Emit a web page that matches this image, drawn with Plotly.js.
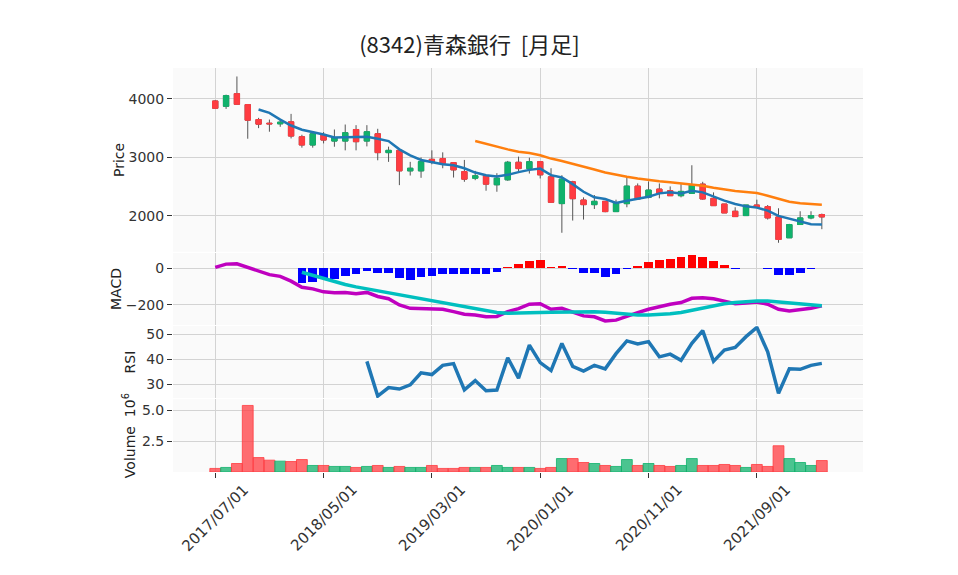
<!DOCTYPE html>
<html>
<head>
<meta charset="utf-8">
<script src="https://cdn.plot.ly/plotly-3.0.1.min.js"></script>
<style>
  body { margin: 0; background: #fff; }
  #chart { width: 958px; height: 575px; }
</style>
</head>
<body>
<div id="chart"></div>
<script>
// monthly bars, 2017/07 .. 2022/03
var months = [
  '2017/07/01','2017/08/01','2017/09/01','2017/10/01','2017/11/01','2017/12/01',
  '2018/01/01','2018/02/01','2018/03/01','2018/04/01','2018/05/01','2018/06/01',
  '2018/07/01','2018/08/01','2018/09/01','2018/10/01','2018/11/01','2018/12/01',
  '2019/01/01','2019/02/01','2019/03/01','2019/04/01','2019/05/01','2019/06/01',
  '2019/07/01','2019/08/01','2019/09/01','2019/10/01','2019/11/01','2019/12/01',
  '2020/01/01','2020/02/01','2020/03/01','2020/04/01','2020/05/01','2020/06/01',
  '2020/07/01','2020/08/01','2020/09/01','2020/10/01','2020/11/01','2020/12/01',
  '2021/01/01','2021/02/01','2021/03/01','2021/04/01','2021/05/01','2021/06/01',
  '2021/07/01','2021/08/01','2021/09/01','2021/10/01','2021/11/01','2021/12/01',
  '2022/01/01','2022/02/01','2022/03/01'
];
var tickMonths = ['2017/07/01','2018/05/01','2019/03/01','2020/01/01','2020/11/01','2021/09/01'];

var openP = [3966,3875,4091,3904,3648,3585,3575,3609,3354,3212,
             3393,3280,3280,3478,3280,3405,3082,3121,2770,2770,
             2968,2980,2911,2758,2645,2690,2532,2617,2917,2809,
             2928,2668,2210,2583,2271,2192,2249,2073,2209,2509,
             2317,2458,2430,2345,2385,2543,2300,2203,2079,2005,
             2186,2158,1982,1625,1852,1965,2022];
var highP = [3980,4074,4385,3904,3677,3648,3648,3745,3388,3422,
             3433,3478,3563,3552,3552,3490,3184,3121,2924,3000,
             3121,3087,2911,2957,2770,2690,2730,2940,3014,2996,
             2928,2815,2696,2600,2317,2357,2249,2277,2668,2555,
             2589,2555,2504,2543,2866,2583,2402,2203,2147,2186,
             2277,2186,2130,1863,2079,2079,2039];
var lowP  = [3830,3830,3905,3320,3501,3440,3524,3325,3167,3167,
             3240,3183,3121,3121,3189,2951,2924,2526,2690,2651,
             2883,2815,2656,2583,2611,2430,2413,2600,2742,2724,
             2640,2232,1711,1920,1937,2118,2062,2073,2147,2277,
             2300,2300,2345,2317,2385,2277,2175,2050,1988,2005,
             2152,1937,1540,1625,1852,1942,1772];
var closeP = [3841,4057,3909,3637,3569,3575,3603,3365,3212,3405,
              3297,3337,3422,3269,3439,3082,3121,2770,2815,2928,
              2923,2900,2787,2628,2685,2543,2645,2917,2809,2928,
              2702,2232,2629,2294,2192,2249,2073,2220,2509,2288,
              2441,2385,2345,2419,2526,2289,2175,2050,1988,2186,
              2152,1965,1596,1852,1965,2005,1982];

// 5 and 25 month moving averages (start at 2017/11 and 2019/07)
var ma5 = [3819,3762,3648,3546,3473,3439,3393,3342,3348,3354,
           3354,3320,3280,3138,3036,2957,2923,2883,2866,2815,2741,2696,2673,2702,2748,
           2787,2809,2696,2656,2543,2413,2317,2288,2220,2260,2288,2328,2385,2402,2385,
           2430,2402,2328,2260,2203,2163,2141,2090,1999,1948,1903,1857,1852];
var ma25 = [3280,3229,3183,3138,3098,
            3076,3036,2980,2940,2894,2843,2792,2741,2702,2668,2640,2611,2594,2577,2560,
            2543,2515,2481,2447,2424,2407,2390,2345,2288,2243,2215,2197,2190];

var macd = [3,21,23,4,-18,-36,-45,-71,-104,-113,
            -129,-134,-132,-139,-132,-154,-166,-200,-218,-220,
            -220,-223,-236,-250,-254,-264,-262,-236,-220,-196,
            -193,-223,-218,-241,-259,-264,-286,-282,-259,-241,
            -223,-209,-196,-187,-164,-161,-166,-179,-193,-189,
            -184,-196,-223,-232,-227,-218,-205];
// signal and histogram start at 2018/03
var signal = [-23,-39,-57,-75,-89,-102,-113,-123,-134,-145,
              -157,-168,-179,-187,-198,-211,-221,-232,-241,-245,
              -245,-243,-241,-239,-238,-236,-236,-236,-239,-245,
              -250,-254,-254,-252,-248,-241,-229,-214,-202,-193,
              -187,-182,-179,-179,-184,-191,-196,-200,-204];
var hist = [-79,-73,-59,-59,-41,-34,-14,-25,-25,-56,
            -63,-50,-41,-32,-32,-32,-32,-30,-20,7,
            20,38,43,5,13,-4,-25,-27,-47,-34,
            -4,13,32,43,49,58,70,58,38,16,
            -3,0,0,-3,-38,-38,-25,-7,0];

// RSI starts at 2018/09
var rsi = [39.1,25.2,28.6,28.0,29.7,34.5,33.8,37.5,38.2,27.7,
           31.4,27.3,27.6,40.5,32.4,45.6,38.6,35.4,46.3,37.1,
           35.2,37.5,36.1,42.2,47.3,46.1,47.0,40.9,42.0,39.5,
           46.3,51.4,39.1,43.6,44.7,49.0,52.7,42.9,26.3,36.1,35.9,37.5,38.3];

// volume in millions of shares
var volume = [0.29,0.37,0.69,5.40,1.17,0.96,0.88,0.85,1.01,0.53,
              0.53,0.45,0.45,0.37,0.45,0.53,0.37,0.45,0.37,0.37,
              0.53,0.29,0.29,0.37,0.37,0.37,0.53,0.37,0.37,0.37,
              0.29,0.37,1.09,1.09,0.77,0.69,0.53,0.45,1.01,0.53,
              0.69,0.53,0.45,0.53,1.09,0.53,0.53,0.61,0.53,0.37,
              0.61,0.45,2.13,1.09,0.77,0.53,0.93];

var upColor = '#10b26c', downColor = '#ff3c41';
var font = 'DejaVu Sans, sans-serif';

var bodyTop = openP.map(function (o, i) { return Math.max(o, closeP[i]); });
var bodyBot = openP.map(function (o, i) { return Math.min(o, closeP[i]); });
var volColors = closeP.map(function (c, i) {
  return c >= openP[i] ? 'rgba(16,178,108,0.75)' : 'rgba(255,60,65,0.75)';
});
var volLines = closeP.map(function (c, i) {
  return c >= openP[i] ? 'rgba(16,178,108,0.8)' : 'rgba(255,60,65,0.8)';
});
var histColors = hist.map(function (h) { return h >= 0 ? '#ff0000' : '#0000ff'; });

var traces = [
  // wicks
  {
    type: 'candlestick', x: months, open: openP, high: highP, low: lowP, close: closeP,
    xaxis: 'x4', yaxis: 'y4', hoverinfo: 'skip',
    increasing: {line: {color: '#555555', width: 1}, fillcolor: '#555555'},
    decreasing: {line: {color: '#555555', width: 1}, fillcolor: '#555555'}
  },
  // bodies
  {
    type: 'candlestick', x: months, open: openP, high: bodyTop, low: bodyBot, close: closeP,
    xaxis: 'x4', yaxis: 'y4',
    increasing: {line: {color: upColor, width: 1}, fillcolor: upColor},
    decreasing: {line: {color: downColor, width: 1}, fillcolor: downColor}
  },
  {
    type: 'scatter', mode: 'lines', x: months.slice(4), y: ma5,
    xaxis: 'x4', yaxis: 'y4', line: {color: '#1f77b4', width: 2.5}
  },
  {
    type: 'scatter', mode: 'lines', x: months.slice(24), y: ma25,
    xaxis: 'x4', yaxis: 'y4', line: {color: '#ff7f0e', width: 2.5}
  },
  {
    type: 'bar', x: months.slice(8), y: hist, xaxis: 'x3', yaxis: 'y3',
    marker: {color: histColors}, width: 0.8
  },
  {
    type: 'scatter', mode: 'lines', x: months, y: macd,
    xaxis: 'x3', yaxis: 'y3', line: {color: '#bf00bf', width: 3.5}
  },
  {
    type: 'scatter', mode: 'lines', x: months.slice(8), y: signal,
    xaxis: 'x3', yaxis: 'y3', line: {color: '#00bfbf', width: 3.5}
  },
  {
    type: 'scatter', mode: 'lines', x: months.slice(14), y: rsi,
    xaxis: 'x2', yaxis: 'y2', line: {color: '#1f77b4', width: 3.5}
  },
  {
    type: 'bar', x: months, y: volume, xaxis: 'x', yaxis: 'y',
    marker: {color: volColors, line: {color: volLines, width: 1}}, width: 1
  }
];

var gridColor = '#d3d3d3';
function xAx(anchor, showTicks) {
  return {
    type: 'category', anchor: anchor, domain: [0, 1], range: [-3.9, 59.8],
    categoryorder: 'array', categoryarray: months,
    tickvals: tickMonths, showticklabels: false,
    ticks: showTicks ? 'outside' : '', ticklen: 5, tickcolor: '#333',
    showgrid: true, gridcolor: gridColor, zeroline: false,
    rangeslider: {visible: false}, matches: anchor === 'y' ? undefined : 'x'
  };
}
function yAx(anchor, domain, range, tickvals, title, fmt) {
  return {
    anchor: anchor, domain: domain, range: range, tickvals: tickvals,
    tickformat: fmt || '', ticks: 'outside', ticklen: 5, tickcolor: '#333',
    showgrid: true, gridcolor: gridColor, zeroline: false,
    title: {text: title, font: {size: 14, color: '#222'}}
  };
}

// date labels centred on their ticks, rotated 45 degrees
var dateLabels = tickMonths.map(function (m) {
  return {
    text: m, x: m, xref: 'x', y: -0.114, yref: 'paper',
    xanchor: 'center', yanchor: 'middle', textangle: -45, showarrow: false,
    font: {size: 15, color: '#333'}
  };
});

var layout = {
  width: 958, height: 575,
  margin: {l: 173, r: 95, t: 68, b: 103},
  paper_bgcolor: '#ffffff', plot_bgcolor: '#fafafa',
  font: {family: font, size: 14, color: '#333'},
  showlegend: false,
  title: {
    text: '(8342)青森銀行  [月足]', x: 0.49, xanchor: 'center',
    xref: 'container', y: 0.922, yanchor: 'middle', yref: 'container',
    font: {family: 'Noto Sans CJK JP, DejaVu Sans, sans-serif', size: 22, color: '#222'}
  },
  xaxis: xAx('y', true),
  xaxis2: xAx('y2', false),
  xaxis3: xAx('y3', false),
  xaxis4: xAx('y4', false),
  yaxis: yAx('x', [0, 0.18], [0, 5.9], [2.5, 5.0], 'Volume  10<sup>6</sup>', '.1f'),
  yaxis2: yAx('x2', [0.183, 0.361], [24.4, 53.2], [30, 40, 50], 'RSI'),
  yaxis3: yAx('x3', [0.364, 0.542], [-308, 81], [-200, 0], 'MACD'),
  yaxis4: yAx('x4', [0.545, 1], [1385, 4530], [2000, 3000, 4000], 'Price'),
  annotations: dateLabels,
  bargap: 0
};

Plotly.newPlot('chart', traces, layout, {staticPlot: true});
</script>
</body>
</html>
